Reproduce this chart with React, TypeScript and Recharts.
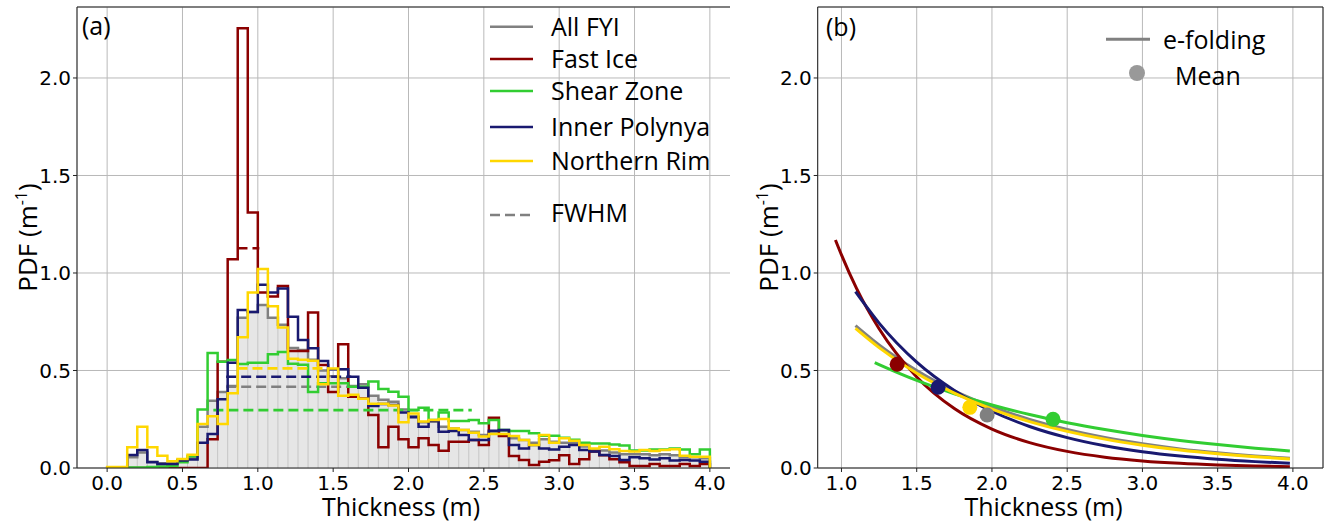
import React from 'react';
import {
  ComposedChart, Line, Area, Scatter, XAxis, YAxis, CartesianGrid,
  ReferenceLine, Legend, Label,
} from 'recharts';

// ---------- Panel (a): histogram data (60 bins of 1/15 m from 0 to 4 m) ----------
const BIN_COUNT = 60;
const H_MAX = 4.0;

const allFyi = [
  0.003, 0.003, 0.055, 0.079, 0.032, 0.024, 0.024, 0.041, 0.05, 0.212,
  0.345, 0.39, 0.42, 0.77, 0.8, 0.836, 0.77, 0.735, 0.615, 0.605,
  0.555, 0.5, 0.47, 0.46, 0.42, 0.43, 0.37, 0.35, 0.34, 0.3,
  0.265, 0.235, 0.238, 0.212, 0.203, 0.195, 0.186, 0.169, 0.186, 0.191,
  0.152, 0.144, 0.13, 0.147, 0.135, 0.13, 0.13, 0.11, 0.095, 0.09,
  0.08, 0.07, 0.07, 0.07, 0.065, 0.07, 0.065, 0.055, 0.055, 0.05,
];
const fastIce = [
  0, 0, 0, 0, 0, 0, 0, 0, 0, 0,
  0.147, 0.545, 1.07, 2.255, 1.31, 0.9, 0.88, 0.933, 0.6, 0.6,
  0.797, 0.528, 0.39, 0.634, 0.366, 0.357, 0.272, 0.106, 0.212, 0.147,
  0.106, 0.152, 0.118, 0.089, 0.135, 0.135, 0.144, 0.118, 0.258, 0.164,
  0.062, 0.041, 0.015, 0.032, 0.04, 0.065, 0.02, 0.045, 0.085, 0.065,
  0.045, 0.03, 0.01, 0.01, 0.02, 0.01, 0.01, 0.02, 0.01, 0.02,
];
const shearZone = [
  0, 0, 0.003, 0.003, 0.005, 0.008, 0.01, 0.03, 0.06, 0.3,
  0.59, 0.545, 0.554, 0.533, 0.54, 0.54, 0.583, 0.595, 0.535, 0.53,
  0.39, 0.434, 0.434, 0.434, 0.417, 0.417, 0.443, 0.405, 0.391, 0.366,
  0.297, 0.309, 0.246, 0.284, 0.241, 0.241, 0.246, 0.229, 0.246, 0.195,
  0.19, 0.19, 0.178, 0.166, 0.166, 0.155, 0.145, 0.13, 0.125, 0.125,
  0.12, 0.115, 0.09, 0.09, 0.095, 0.095, 0.1, 0.095, 0.07, 0.095,
];
const innerPolynya = [
  0, 0, 0.067, 0.092, 0.029, 0.02, 0.02, 0.038, 0.044, 0.13,
  0.174, 0.352, 0.54, 0.81, 0.8, 0.94, 0.9, 0.92, 0.776, 0.656,
  0.614, 0.549, 0.506, 0.506, 0.468, 0.412, 0.318, 0.328, 0.323, 0.284,
  0.26, 0.212, 0.241, 0.186, 0.19, 0.169, 0.144, 0.144, 0.191, 0.195,
  0.118, 0.1, 0.118, 0.1, 0.095, 0.109, 0.118, 0.092, 0.084, 0.067,
  0.062, 0.041, 0.055, 0.05, 0.044, 0.05, 0.038, 0.041, 0.038, 0.032,
];
const northernRim = [
  0.005, 0.005, 0.106, 0.212, 0.106, 0.063, 0.034, 0.046, 0.068, 0.226,
  0.265, 0.225, 0.383, 0.67, 0.9, 1.02, 0.83, 0.72, 0.56, 0.555,
  0.55, 0.43, 0.51, 0.37, 0.375, 0.355, 0.33, 0.33, 0.32, 0.235,
  0.28, 0.238, 0.246, 0.251, 0.203, 0.195, 0.181, 0.161, 0.174, 0.174,
  0.164, 0.144, 0.118, 0.169, 0.13, 0.152, 0.14, 0.118, 0.1, 0.109,
  0.096, 0.087, 0.084, 0.092, 0.087, 0.092, 0.096, 0.063, 0.058, 0.058,
];

// FWHM segments (thickness range at half-maximum level)
const fwhmAllFyi = [{ x: 0.79, y: 0.417 }, { x: 1.6, y: 0.417 }];
const fwhmFastIce = [{ x: 0.865, y: 1.127 }, { x: 1.01, y: 1.127 }];
const fwhmShearZone = [{ x: 0.705, y: 0.297 }, { x: 2.42, y: 0.297 }];
const fwhmInnerPolynya = [{ x: 0.79, y: 0.468 }, { x: 1.62, y: 0.468 }];
const fwhmNorthernRim = [{ x: 0.865, y: 0.511 }, { x: 1.47, y: 0.511 }];

// ---------- Panel (b): e-folding curves and means ----------
const efoldAllFyi = [
  { x: 1.093, y: 0.73 }, { x: 1.25, y: 0.631 }, { x: 1.5, y: 0.5 }, { x: 1.75, y: 0.396 },
  { x: 2.0, y: 0.314 }, { x: 2.25, y: 0.249 }, { x: 2.5, y: 0.197 }, { x: 2.75, y: 0.156 },
  { x: 3.0, y: 0.124 }, { x: 3.25, y: 0.098 }, { x: 3.5, y: 0.078 }, { x: 3.75, y: 0.0617 },
  { x: 3.98, y: 0.0498 },
];
const efoldFastIce = [
  { x: 0.96, y: 1.169 }, { x: 1.0, y: 1.093 }, { x: 1.1, y: 0.921 }, { x: 1.25, y: 0.714 },
  { x: 1.5, y: 0.467 }, { x: 1.75, y: 0.305 }, { x: 2.0, y: 0.1996 }, { x: 2.25, y: 0.1304 },
  { x: 2.5, y: 0.0853 }, { x: 2.75, y: 0.0557 }, { x: 3.0, y: 0.0365 }, { x: 3.25, y: 0.0238 },
  { x: 3.5, y: 0.0156 }, { x: 3.75, y: 0.0102 }, { x: 3.98, y: 0.0069 },
];
const efoldShearZone = [
  { x: 1.221, y: 0.54 }, { x: 1.25, y: 0.53 }, { x: 1.5, y: 0.449 }, { x: 1.75, y: 0.381 },
  { x: 2.0, y: 0.323 }, { x: 2.25, y: 0.274 }, { x: 2.5, y: 0.232 }, { x: 2.75, y: 0.197 },
  { x: 3.0, y: 0.167 }, { x: 3.25, y: 0.1415 }, { x: 3.5, y: 0.12 }, { x: 3.75, y: 0.1017 },
  { x: 3.98, y: 0.0874 },
];
const efoldInnerPolynya = [
  { x: 1.093, y: 0.904 }, { x: 1.25, y: 0.743 }, { x: 1.5, y: 0.543 }, { x: 1.75, y: 0.398 },
  { x: 2.0, y: 0.291 }, { x: 2.25, y: 0.213 }, { x: 2.5, y: 0.156 }, { x: 2.75, y: 0.114 },
  { x: 3.0, y: 0.0834 }, { x: 3.25, y: 0.061 }, { x: 3.5, y: 0.0446 }, { x: 3.75, y: 0.0327 },
  { x: 3.98, y: 0.0245 },
];
const efoldNorthernRim = [
  { x: 1.093, y: 0.716 }, { x: 1.25, y: 0.617 }, { x: 1.5, y: 0.486 }, { x: 1.75, y: 0.384 },
  { x: 2.0, y: 0.302 }, { x: 2.25, y: 0.238 }, { x: 2.5, y: 0.188 }, { x: 2.75, y: 0.148 },
  { x: 3.0, y: 0.117 }, { x: 3.25, y: 0.092 }, { x: 3.5, y: 0.0727 }, { x: 3.75, y: 0.0574 },
  { x: 3.98, y: 0.0461 },
];

const meanAllFyi = [{ x: 1.968, y: 0.272 }];
const meanFastIce = [{ x: 1.37, y: 0.532 }];
const meanShearZone = [{ x: 2.406, y: 0.25 }];
const meanInnerPolynya = [{ x: 1.642, y: 0.414 }];
const meanNorthernRim = [{ x: 1.853, y: 0.311 }];

// ---------- ticks / axes ----------
const xTicksA = [0, 0.5, 1.0, 1.5, 2.0, 2.5, 3.0, 3.5, 4.0];
const xTicksB = [1.0, 1.5, 2.0, 2.5, 3.0, 3.5, 4.0];
const yTicks = [0, 0.5, 1.0, 1.5, 2.0];
const X_DOMAIN_A: [number, number] = [-0.2, 4.2];
const X_DOMAIN_B: [number, number] = [0.842, 4.2];
const Y_DOMAIN: [number, number] = [0, 2.364];

const legendNamesA = ['All FYI', 'Fast Ice', 'Shear Zone', 'Inner Polynya', 'Northern Rim'];

// ---------- styles ----------
const C_ALL = '#808080';
const C_FAST = '#8b0000';
const C_SHEAR = '#32cd32';
const C_INNER = '#191970';
const C_NORTH = '#ffd700';
const LEGEND_COLORS = [C_ALL, C_FAST, C_SHEAR, C_INNER, C_NORTH];
const TICK_FONT = 'DejaVu Sans, sans-serif';
const LABEL_FONT = '"Open Sans", "Noto Sans", sans-serif';
const GRID = '#b9b9b9';
const FRAME = '#222';

// ---------- table built from the arrays ----------
const binWidth = H_MAX / BIN_COUNT;
const histRows: any[] = [{ x: 0, all: 0, fast: 0, shear: 0, inner: 0, north: 0 }];
for (let k = 0; k < BIN_COUNT; k++) {
  histRows.push({
    x: k * binWidth,
    all: allFyi[k], fast: fastIce[k], shear: shearZone[k],
    inner: innerPolynya[k], north: northernRim[k],
  });
}
histRows.push({
  x: H_MAX,
  all: allFyi[BIN_COUNT - 1], fast: fastIce[BIN_COUNT - 1], shear: shearZone[BIN_COUNT - 1],
  inner: innerPolynya[BIN_COUNT - 1], north: northernRim[BIN_COUNT - 1],
});
histRows.push({ x: H_MAX, all: 0, fast: 0, shear: 0, inner: 0, north: 0 });

const barEdges: { x: number; h: number }[] = [];
for (let k = 0; k <= BIN_COUNT; k++) {
  const left = k > 0 ? allFyi[k - 1] : 0;
  const right = k < BIN_COUNT ? allFyi[k] : 0;
  barEdges.push({ x: k * binWidth, h: Math.max(left, right) });
}

const fmt1 = (v: number) => v.toFixed(1);

const tickStyle = { fontFamily: TICK_FONT, fontSize: 20, fill: '#000' };

function YLab({ x, y }: { x: number; y: number }) {
  return (
    <text
      x={x}
      y={y}
      transform={`rotate(-90, ${x}, ${y})`}
      textAnchor="middle"
      fontFamily={LABEL_FONT}
      fontSize={26}
      fill="#000"
    >
      PDF (m<tspan dy={-10} fontSize={16}>-1</tspan>
      <tspan dy={10}>)</tspan>
    </text>
  );
}

function XLab({ x, y }: { x: number; y: number }) {
  return (
    <text x={x} y={y} textAnchor="middle" fontFamily={LABEL_FONT} fontSize={25} fill="#000">
      Thickness (m)
    </text>
  );
}

function PanelTag({ x, y, text }: { x: number; y: number; text: string }) {
  return (
    <text x={x} y={y} fontFamily={LABEL_FONT} fontSize={25} fill="#000">
      {text}
    </text>
  );
}

function LegendA() {
  const rows = [26.7, 59, 91, 127, 161];
  return (
    <svg width={260} height={235} style={{ overflow: 'visible' }}>
      {legendNamesA.map((name, i) => (
        <g key={name}>
          <line x1={10} x2={53} y1={rows[i]} y2={rows[i]} stroke={LEGEND_COLORS[i]} strokeWidth={2.5} />
          <text x={71} y={rows[i] + 9.3} fontFamily={LABEL_FONT} fontSize={25} fill="#000">{name}</text>
        </g>
      ))}
      <line x1={10} x2={53} y1={215} y2={215} stroke={C_ALL} strokeWidth={2.5} strokeDasharray="10 5" />
      <text x={71} y={221.5} fontFamily={LABEL_FONT} fontSize={25} fill="#000">FWHM</text>
    </svg>
  );
}

function LegendB() {
  return (
    <svg width={230} height={100} style={{ overflow: 'visible' }}>
      <line x1={16} x2={60} y1={39.3} y2={39.3} stroke={C_ALL} strokeWidth={3} />
      <text x={73} y={48.5} fontFamily={LABEL_FONT} fontSize={25} fill="#000">e-folding</text>
      <circle cx={47} cy={73} r={8} fill="#999" />
      <text x={85} y={85} fontFamily={LABEL_FONT} fontSize={25} fill="#000">Mean</text>
    </svg>
  );
}

const dot = (color: string) => (p: any) => <circle cx={p.cx} cy={p.cy} r={7.5} fill={color} />;

export default function App() {
  const stepLine = (key: string, color: string) => (
    <Line
      key={key}
      dataKey={key}
      type="stepAfter"
      stroke={color}
      strokeWidth={2.5}
      dot={false}
      activeDot={false}
      isAnimationActive={false}
    />
  );
  const dashLine = (data: any[], color: string, id: string) => (
    <Line
      key={id}
      data={data}
      dataKey="y"
      type="linear"
      stroke={color}
      strokeWidth={2.6}
      strokeDasharray="10 5"
      dot={false}
      activeDot={false}
      isAnimationActive={false}
    />
  );
  const fitLine = (data: any[], color: string, id: string) => (
    <Line
      key={id}
      data={data}
      dataKey="y"
      type="monotone"
      stroke={color}
      strokeWidth={3}
      dot={false}
      activeDot={false}
      isAnimationActive={false}
    />
  );
  const meanDots = (data: any[], color: string, id: string) => (
    <Scatter key={id} data={data} dataKey="y" fill={color} shape={dot(color)} isAnimationActive={false} />
  );

  return (
    <div style={{ position: 'absolute', left: 0, top: 0, width: 1330, height: 524, background: '#fff' }}>
      <div style={{ position: 'absolute', left: 0, top: 0 }}>
        <ComposedChart width={730} height={524} data={histRows} margin={{ top: 7, right: -10, bottom: 16, left: 7 }}>
          <CartesianGrid stroke={GRID} strokeWidth={1} />
          <XAxis
            dataKey="x"
            type="number"
            domain={X_DOMAIN_A}
            ticks={xTicksA}
            interval={0}
            allowDataOverflow
            tickFormatter={fmt1}
            height={40}
            tick={tickStyle}
            tickSize={4}
            tickMargin={4}
            axisLine={{ stroke: FRAME }}
            tickLine={{ stroke: FRAME }}
          >
            <Label content={() => <XLab x={401} y={516} />} />
          </XAxis>
          <YAxis
            type="number"
            domain={Y_DOMAIN}
            ticks={yTicks}
            interval={0}
            allowDataOverflow
            tickFormatter={fmt1}
            width={70}
            tick={tickStyle}
            tickSize={4}
            tickMargin={2}
            axisLine={{ stroke: FRAME }}
            tickLine={{ stroke: FRAME }}
          >
            <Label content={() => <YLab x={37} y={237.5} />} />
          </YAxis>
          <Area
            dataKey="all"
            type="stepAfter"
            fill="#e6e6e6"
            fillOpacity={1}
            stroke="none"
            dot={false}
            activeDot={false}
            isAnimationActive={false}
          />
          {barEdges.map((e, i) => (
            <ReferenceLine
              key={'edge' + i}
              segment={[{ x: e.x, y: 0 }, { x: e.x, y: e.h }]}
              stroke="#c6c6c6"
              strokeWidth={1}
            />
          ))}
          {stepLine('all', C_ALL)}
          {dashLine(fwhmAllFyi, C_ALL, 'fa')}
          {stepLine('fast', C_FAST)}
          {dashLine(fwhmFastIce, C_FAST, 'ff')}
          {stepLine('shear', C_SHEAR)}
          {dashLine(fwhmShearZone, C_SHEAR, 'fs')}
          {stepLine('inner', C_INNER)}
          {dashLine(fwhmInnerPolynya, C_INNER, 'fi')}
          {stepLine('north', C_NORTH)}
          {dashLine(fwhmNorthernRim, C_NORTH, 'fn')}
          <ReferenceLine y={Y_DOMAIN[1]} stroke={FRAME} strokeWidth={1}>
            <Label content={() => <PanelTag x={82} y={35} text="(a)" />} />
          </ReferenceLine>
          <ReferenceLine x={X_DOMAIN_A[1]} stroke={FRAME} strokeWidth={1} />
          <Legend
            layout="vertical"
            align="center"
            verticalAlign="middle"
            content={() => <LegendA />}
            wrapperStyle={{ left: 480, top: 0, width: 245, height: 235 }}
          />
        </ComposedChart>
      </div>

      <div style={{ position: 'absolute', left: 730, top: 0 }}>
        <ComposedChart width={600} height={524} margin={{ top: 7, right: 7, bottom: 16, left: 37.7 }}>
          <CartesianGrid stroke={GRID} strokeWidth={1} />
          <XAxis
            dataKey="x"
            type="number"
            domain={X_DOMAIN_B}
            ticks={xTicksB}
            interval={0}
            allowDataOverflow
            tickFormatter={fmt1}
            height={40}
            tick={tickStyle}
            tickSize={4}
            tickMargin={4}
            axisLine={{ stroke: FRAME }}
            tickLine={{ stroke: FRAME }}
          >
            <Label content={() => <XLab x={313.5} y={516} />} />
          </XAxis>
          <YAxis
            type="number"
            domain={Y_DOMAIN}
            ticks={yTicks}
            interval={0}
            allowDataOverflow
            tickFormatter={fmt1}
            width={50}
            tick={tickStyle}
            tickSize={4}
            tickMargin={2}
            axisLine={{ stroke: FRAME }}
            tickLine={{ stroke: FRAME }}
          >
            <Label content={() => <YLab x={47.5} y={237.5} />} />
          </YAxis>
          {fitLine(efoldAllFyi, C_ALL, 'ea')}
          {fitLine(efoldFastIce, C_FAST, 'ef')}
          {fitLine(efoldShearZone, C_SHEAR, 'es')}
          {fitLine(efoldInnerPolynya, C_INNER, 'ei')}
          {fitLine(efoldNorthernRim, C_NORTH, 'en')}
          {meanDots(meanAllFyi, C_ALL, 'ma')}
          {meanDots(meanFastIce, C_FAST, 'mf')}
          {meanDots(meanShearZone, C_SHEAR, 'ms')}
          {meanDots(meanInnerPolynya, C_INNER, 'mi')}
          {meanDots(meanNorthernRim, C_NORTH, 'mn')}
          <ReferenceLine y={Y_DOMAIN[1]} stroke={FRAME} strokeWidth={1}>
            <Label content={() => <PanelTag x={96} y={36} text="(b)" />} />
          </ReferenceLine>
          <ReferenceLine x={X_DOMAIN_B[1]} stroke={FRAME} strokeWidth={1} />
          <Legend
            layout="vertical"
            align="center"
            verticalAlign="middle"
            content={() => <LegendB />}
            wrapperStyle={{ left: 360, top: 0, width: 230, height: 100 }}
          />
        </ComposedChart>
      </div>
    </div>
  );
}
